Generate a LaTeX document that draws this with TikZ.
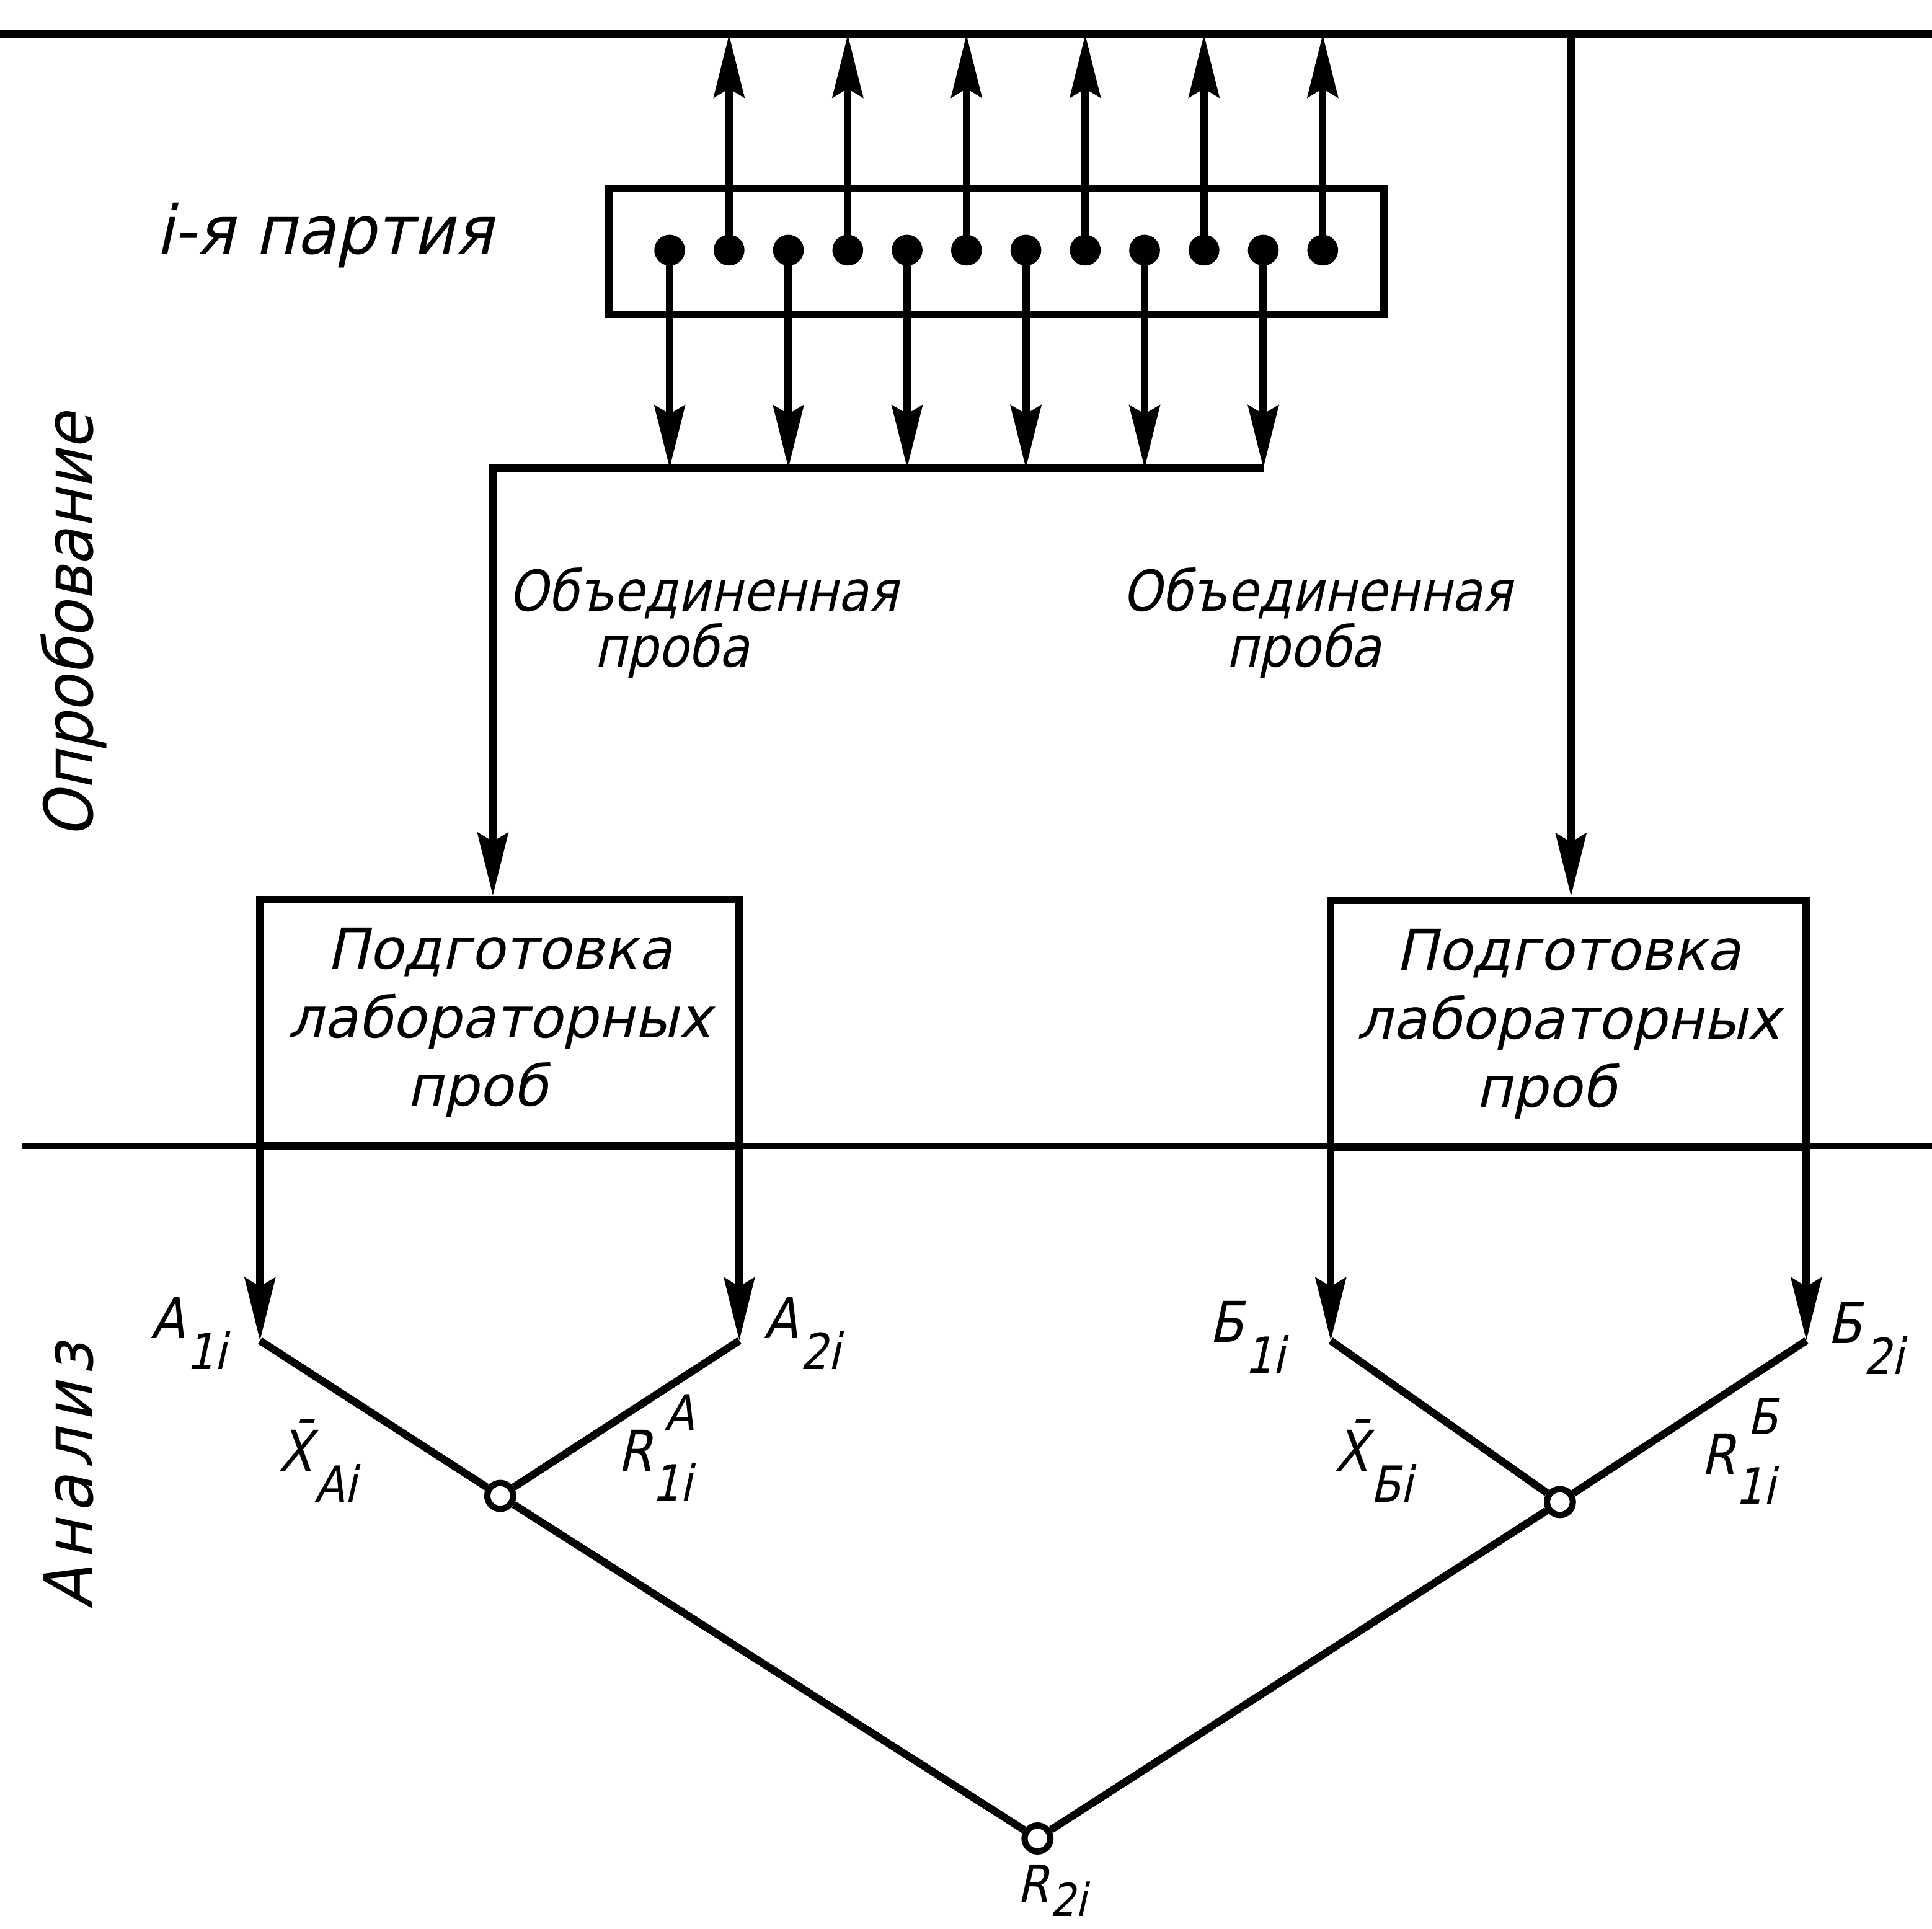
\documentclass[tikz,border=0pt]{standalone}
\usepackage{fontspec}
\usepackage{graphicx}
\newfontfamily\gostn[FakeSlant=0.22,FakeStretch=0.88]{DejaVu Sans}
\newfontfamily\gostw[FakeSlant=0.22,FakeStretch=0.99]{DejaVu Sans}
\newfontfamily\gostv[FakeSlant=0.22,FakeStretch=0.92]{DejaVu Sans}
\usetikzlibrary{arrows.meta}
\newcommand\lsub[1]{\hspace{0.03em}\raisebox{-0.55em}{\fontsize{23}{23}\selectfont #1}}
\newcommand\lsubb[1]{\hspace{0.03em}\raisebox{-0.27em}{\fontsize{21}{21}\selectfont #1}}
\newcommand\lsupsub[2]{\rlap{\raisebox{-0.52em}{\fontsize{23}{23}\selectfont #2}}\hspace{0.22em}\raisebox{0.72em}{\fontsize{23}{23}\selectfont #1}}
\begin{document}
\begin{tikzpicture}[x=0.02cm,y=-0.02cm,
  ln/.style={line width=3.5pt},
  arr/.style={ln,-{Stealth[length=29pt,width=14pt,inset=4pt]}},
  dot/.style={circle,fill=black,inner sep=0pt,minimum size=0.5cm},
  odot/.style={circle,draw=black,fill=white,line width=2.9pt,inner sep=0pt,minimum size=0.42cm},
  box/.style={draw,ln,inner sep=0pt,align=center,font=\gostw\fontsize{26}{31.7}\selectfont},
  txt/.style={font=\gostn\fontsize{26}{31}\selectfont,inner sep=0pt},
  big/.style={font=\gostv\fontsize{31}{31}\selectfont,inner sep=0pt},
  lab/.style={font=\gostn\fontsize{26}{26}\selectfont,inner sep=0pt,anchor=base west},
]
\useasboundingbox (0,0) rectangle (1568,1565);
% horizontal rules
\coordinate (tl) at (0,28);
\coordinate (tr) at (1568,28);
\coordinate (ml) at (18,930);
\coordinate (mr) at (1568,930);
\draw[line width=3.7pt] (tl) -- (tr);
\draw[line width=3pt] (ml) -- (mr);

% party box
\node[box,minimum width=12.58cm,minimum height=2.04cm] (party) at (808.5,204) {};
\node[big,anchor=base west] (plab) at (126,206) {\addfontfeature{FakeStretch=0.95}i-я партия};

% dots and arrows
\foreach \k in {0,...,11} {
  \coordinate (d\k) at ({543.5+48.18*\k},203);
}
\coordinate (jL) at (400,380);
\coordinate (jR) at (1275,28);
\foreach \k in {1,3,5,7,9,11} {
  \draw[arr] (d\k) -- (d\k |- tl);
}
\foreach \k in {0,2,4,6,8,10} {
  \draw[arr] (d\k) -- (d\k |- jL);
}
\foreach \k in {0,...,11} {
  \node[dot] (n\k) at (d\k) {};
}

% lab boxes
\node[box,minimum width=7.78cm,minimum height=4cm] (lbox) at (405.5,830) {Подготовка\\лабораторных\\проб\hspace*{0.8em}};
\node[box,minimum width=7.72cm,minimum height=4.02cm] (rbox) at (1273,831) {Подготовка\\лабораторных\\проб\hspace*{0.8em}};

\draw[arr] (d10 |- jL) -- (jL) -- (jL |- lbox.north);
\draw[arr] (jR) -- (jR |- rbox.north);

% combined sample labels
\node[txt,anchor=base] (ob1) at (571,496) {Объединенная};
\node[txt,anchor=base] (pr1) at (545,541) {проба};
\node[txt,anchor=base] (ob2) at (1069,496) {Объединенная};
\node[txt,anchor=base] (pr2) at (1058,541) {проба};

% side labels
\node[big,rotate=90,anchor=base] (opr) at (75,508) {\addfontfeature{FakeStretch=0.9}Опробование};
\node[big,rotate=90,anchor=base] (anl) at (75,1198) {\addfontfeature{LetterSpace=10}Анализ};

% analysis tree
\coordinate (a1) at (211,1088);
\coordinate (a2) at (600,1088);
\coordinate (b1) at (1080,1088);
\coordinate (b2) at (1466,1088);
\draw[arr] (a1 |- lbox.south) -- (a1);
\draw[arr] (a2 |- lbox.south) -- (a2);
\draw[arr] (b1 |- rbox.south) -- (b1);
\draw[arr] (b2 |- rbox.south) -- (b2);

\node[odot] (cA) at (406,1214) {};
\node[odot] (cB) at (1266,1219) {};
\node[odot] (cR) at (842,1492) {};
\draw[ln,line join=round] (a1) -- (cA);
\draw[ln,line join=round] (a2) -- (cA);
\draw[ln,line join=round] (b1) -- (cB);
\draw[ln,line join=round] (b2) -- (cB);
\draw[ln] (cA) -- (cR);
\draw[ln] (cB) -- (cR);

% labels
\node[lab] (la1) at (122,1086) {A\lsub{1i}};
\node[lab] (la2) at (620,1086) {A\lsub{2i}};
\node[lab] (lb1) at (981,1089) {Б\lsub{1i}};
\node[lab] (lb2) at (1483,1090) {Б\lsub{2i}};
\node[lab] (lxa) at (226,1194) {X̄\lsub{Ai}};
\node[lab] (lra) at (501,1194) {R\lsupsub{A}{1i}};
\node[lab] (lxb) at (1083,1194) {X̄\lsub{Бi}};
\node[lab] (lrb) at (1380,1197) {R\lsupsub{Б}{1i}};
\node[lab,font=\gostn\fontsize{24}{24}\selectfont] (lr2) at (825,1544) {R\lsubb{2i}};
\end{tikzpicture}
\end{document}
